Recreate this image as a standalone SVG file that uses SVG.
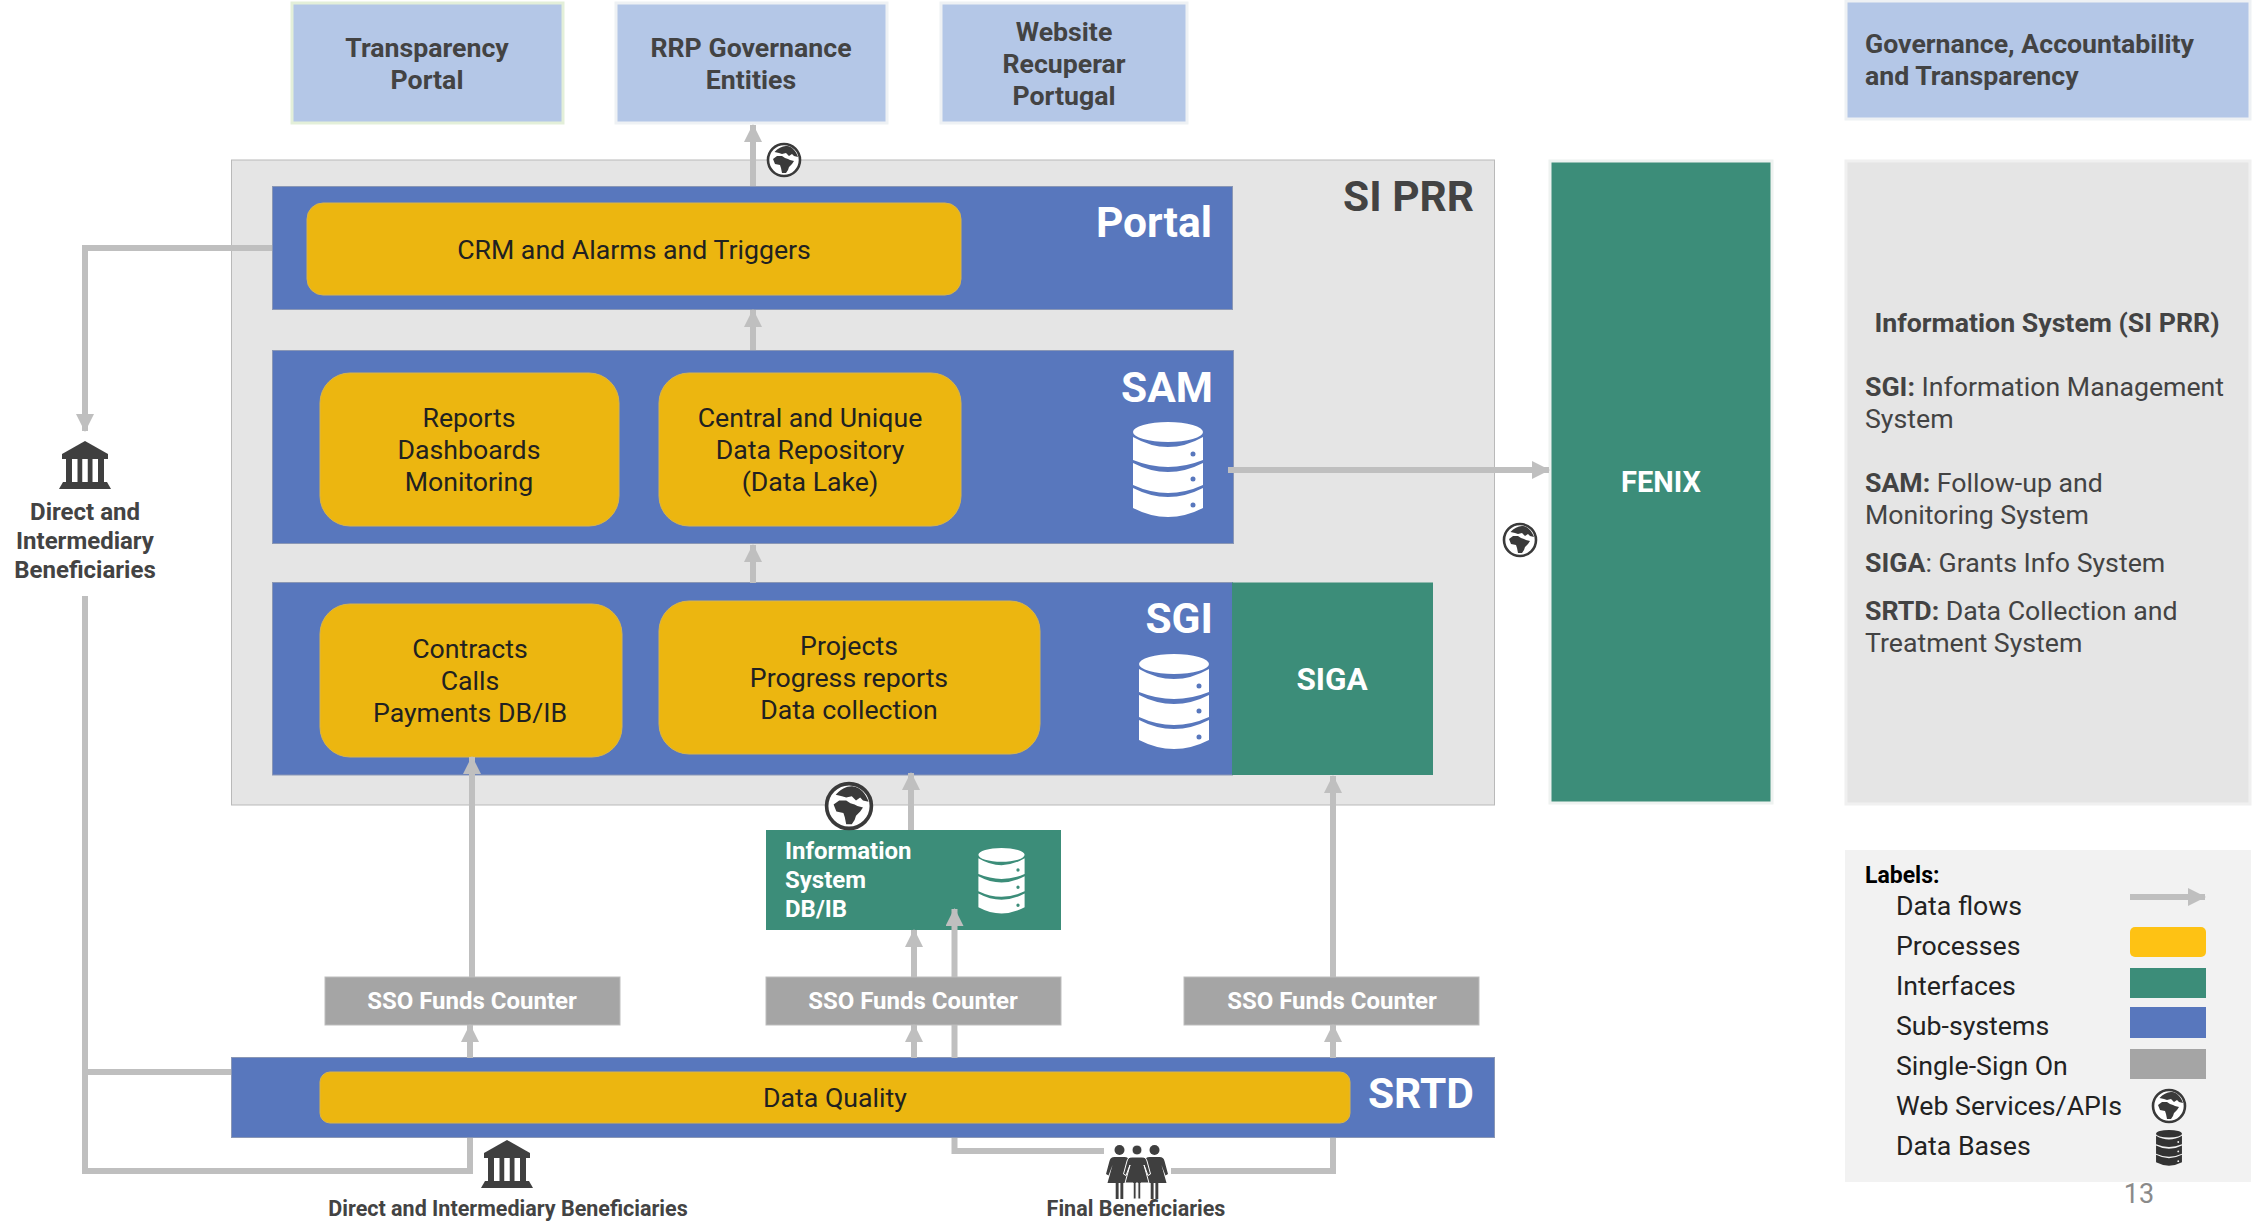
<svg xmlns="http://www.w3.org/2000/svg" width="2262" height="1221" viewBox="0 0 2262 1221">
<style>
text{font-family:Roboto,"Liberation Sans",sans-serif;font-size:26.7px}
.c{text-anchor:middle}
.m{font-weight:700}
.b{font-weight:700}
.d{fill:#434343}
.k{fill:#212121}
.w{fill:#fff}
.t{font-size:42.5px;font-weight:700}
.blue{fill:#5877bd;stroke:#8a97b5;stroke-width:1}
.top{fill:#b4c7e7;stroke:#eef1f4;stroke-width:3}
.proc{fill:#ecb610;stroke:#d9b54a;stroke-width:1}
.green{fill:#3c8d79}
.sso{fill:#a5a5a5;stroke:#bdbdbd;stroke-width:1}
.ln{fill:none;stroke:#bfbfbf;stroke-width:6}
.s24{font-size:24px}
.s235{font-size:24px}
.s215{font-size:21.5px}
.lg{fill:#222}
</style>
<defs>
<marker id="ah" markerUnits="userSpaceOnUse" markerWidth="18" markerHeight="18" refX="17" refY="9" orient="auto"><path d="M0 0L18 9L0 18Z" fill="#bfbfbf"/></marker>
<g id="globe">
<circle r="16" fill="#fff" stroke="#3a3a3a" stroke-width="2.6"/>
<path fill="#3a3a3a" d="M-9.500-8C-6-12-1-14.500 3-14C8-13.500 12-9 14-3L10-4L8-6L5-4L2-7L-2-6L-5-7ZM-11-1L-7-4L-2-4L1-2L4-1L6 0L10 1L8 4L5 7L4 10L2 13L-2 13L-3 8L-4 5L-9 4Z"/>
</g>
<path id="db" fill-rule="evenodd" d="M-35-38A35 10 0 0 1 35-38A35 10 0 0 1-35-38ZM-35-33Q0-13 35-33V-10Q0 4-35-10ZM22.500-16a2.500 2.500 0 1 0 5 0a2.500 2.500 0 1 0-5 0ZM-35-7Q0 11 35-7V15Q0 31-35 15ZM22.500 9a2.500 2.500 0 1 0 5 0a2.500 2.500 0 1 0-5 0ZM-35 18Q0 36 35 18V38Q0 56-35 38ZM22.500 35a2.500 2.500 0 1 0 5 0a2.500 2.500 0 1 0-5 0Z"/>
<g id="bank" fill="#3f3f3f">
<path d="M0-24L23-11V-6H-23V-11Z"/>
<rect x="-19" y="-6" width="6" height="24"/><rect x="-7.500" y="-6" width="4.750" height="24"/><rect x="2.750" y="-6" width="4.750" height="24"/><rect x="13" y="-6" width="6" height="24"/>
<path d="M-22 17H22L26 24H-26Z"/>
</g>
<g id="woman" fill="#3f3f3f">
<circle cx="0" cy="0" r="5"/>
<path d="M-5 7H5C8 7 9 8 10 11L13.500 24L11 25.500L7 15L12 33H3.800V49H.9V33H-.9V49H-3.800V33H-12L-7 15L-11 25.500L-13.500 24L-10 11C-9 8-8 7-5 7Z"/>
</g>
</defs>

<g id="si-prr"><rect x="231.500" y="160" width="1263" height="645" fill="#e5e5e5" stroke="#b9b9b9" stroke-width="1"/><text class="t d" x="1474" y="211" text-anchor="end">SI PRR</text></g>

<g id="transparency-portal"><rect class="top" x="292" y="3" width="271" height="120" style="stroke:#e3efd9"/><text class="c m d" x="427" y="57">Transparency</text><text class="c m d" x="427" y="89">Portal</text></g>
<g id="rrp-governance"><rect class="top" x="616" y="3" width="271" height="120"/><text class="c m d" x="751" y="57">RRP Governance</text><text class="c m d" x="751" y="89">Entities</text></g>
<g id="website-recuperar"><rect class="top" x="941" y="3" width="246" height="120"/><text class="c m d" x="1064" y="41">Website</text><text class="c m d" x="1064" y="73">Recuperar</text><text class="c m d" x="1064" y="105">Portugal</text></g>
<g id="governance-legend"><rect class="top" x="1846" y="1" width="404" height="118"/><text class="m d" x="1865" y="53">Governance, Accountability</text><text class="m d" x="1865" y="85">and Transparency</text></g>

<g id="portal"><rect class="blue" x="272.500" y="186.500" width="960" height="123"/><text class="t w" x="1212" y="237" text-anchor="end">Portal</text></g>
<g id="crm"><rect class="proc" x="307" y="203" width="654" height="92" rx="16"/><text class="c k" x="634" y="259">CRM and Alarms and Triggers</text></g>

<g id="sam"><rect class="blue" x="272.500" y="350.500" width="961" height="193"/><text class="t w" x="1213" y="402" text-anchor="end">SAM</text><use href="#db" x="1168" y="470" fill="#fff"/></g>
<g id="reports"><rect class="proc" x="320" y="373" width="299" height="153" rx="30"/><text class="c k" x="469" y="427">Reports</text><text class="c k" x="469" y="459">Dashboards</text><text class="c k" x="469" y="491">Monitoring</text></g>
<g id="central"><rect class="proc" x="659" y="373" width="302" height="153" rx="30"/><text class="c k" x="810" y="427">Central and Unique</text><text class="c k" x="810" y="459">Data Repository</text><text class="c k" x="810" y="491">(Data Lake)</text></g>

<g id="sgi"><rect class="blue" x="272.500" y="582.500" width="960" height="192.500"/><text class="t w" x="1213" y="633" text-anchor="end">SGI</text><use href="#db" x="1174" y="702" fill="#fff"/></g>
<g id="contracts"><rect class="proc" x="320" y="604" width="302" height="153" rx="30"/><text class="c k" x="470" y="658">Contracts</text><text class="c k" x="470" y="690">Calls</text><text class="c k" x="470" y="722">Payments DB/IB</text></g>
<g id="projects"><rect class="proc" x="659" y="601" width="381" height="153" rx="30"/><text class="c k" x="849" y="655">Projects</text><text class="c k" x="849" y="687">Progress reports</text><text class="c k" x="849" y="719">Data collection</text></g>
<g id="siga"><rect class="green" x="1232" y="582.500" width="201" height="192.500"/><text class="c m w" x="1332" y="690" style="font-size:31.500px">SIGA</text></g>

<g id="fenix"><rect class="green" x="1550" y="161" width="222" height="642" stroke="#eef2f0" stroke-width="3"/><text class="c m w" x="1661" y="492" style="font-size:29px">FENIX</text></g>

<g id="info-panel"><rect x="1846" y="161" width="404" height="643" fill="#e5e5e5" stroke="#f0f0f0" stroke-width="3"/>
<text class="c m d" x="2047" y="332">Information System (SI PRR)</text>
<text class="d" x="1865" y="396"><tspan class="b">SGI:</tspan> Information Management</text><text class="d" x="1865" y="428">System</text>
<text class="d" x="1865" y="492"><tspan class="b">SAM:</tspan> Follow-up and</text><text class="d" x="1865" y="524">Monitoring System</text>
<text class="d" x="1865" y="572"><tspan class="b">SIGA</tspan>: Grants Info System</text>
<text class="d" x="1865" y="620"><tspan class="b">SRTD:</tspan> Data Collection and</text><text class="d" x="1865" y="652">Treatment System</text></g>

<g id="is-dbib"><rect class="green" x="766" y="830" width="295" height="100"/><text class="m w s24" x="785" y="859">Information</text><text class="m w s24" x="785" y="888">System</text><text class="m w s24" x="785" y="917">DB/IB</text><use href="#db" transform="translate(1001.500 881) scale(.66 .69)" fill="#fff"/></g>

<g id="sso-1"><rect class="sso" x="325" y="977" width="295" height="48"/><text class="c m w s24" x="472" y="1009">SSO Funds Counter</text></g>
<g id="sso-2"><rect class="sso" x="766" y="977" width="295" height="48"/><text class="c m w s24" x="913" y="1009">SSO Funds Counter</text></g>
<g id="sso-3"><rect class="sso" x="1184" y="977" width="295" height="48"/><text class="c m w s24" x="1332" y="1009">SSO Funds Counter</text></g>

<g id="srtd"><rect class="blue" x="231.500" y="1057.500" width="1263" height="80"/><text class="t w" x="1474" y="1108" text-anchor="end">SRTD</text></g>
<g id="data-quality"><rect class="proc" x="320" y="1072" width="1030" height="51" rx="10"/><text class="c k" x="835" y="1107">Data Quality</text></g>

<g id="connectors">
<path class="ln" d="M272 248H85V431" marker-end="url(#ah)"/>
<path class="ln" d="M85 596V1171H470V1138"/>
<path class="ln" d="M85 1072H231"/>
<path class="ln" d="M753 186V125" marker-end="url(#ah)"/>
<path class="ln" d="M753 350V310" marker-end="url(#ah)"/>
<path class="ln" d="M753 583V545" marker-end="url(#ah)"/>
<path class="ln" d="M472 977V757" marker-end="url(#ah)"/>
<path class="ln" d="M911 830V773" marker-end="url(#ah)"/>
<path class="ln" d="M1333 977V776" marker-end="url(#ah)"/>
<path class="ln" d="M1228 470H1549" marker-end="url(#ah)"/>
<path class="ln" d="M914 977V930" marker-end="url(#ah)"/>
<path class="ln" d="M954.500 977V909" marker-end="url(#ah)"/>
<path class="ln" d="M470 1058V1025" marker-end="url(#ah)"/>
<path class="ln" d="M914 1058V1025" marker-end="url(#ah)"/>
<path class="ln" d="M954.500 1025V1058"/>
<path class="ln" d="M1333 1058V1025" marker-end="url(#ah)"/>
<path class="ln" d="M954.500 1138V1151H1104"/>
<path class="ln" d="M1333 1138V1171H1171"/>
</g>

<g id="ws-1"><use href="#globe" x="784" y="160"/></g>
<g id="ws-2"><use href="#globe" x="1520" y="540"/></g>
<g id="ws-3"><use href="#globe" transform="translate(849 806) scale(1.4)"/></g>

<g id="direct-left"><use href="#bank" x="85" y="465"/><text class="c m d s235" x="85" y="520">Direct and</text><text class="c m d s235" x="85" y="549">Intermediary</text><text class="c m d s235" x="85" y="578">Beneficiaries</text></g>
<g id="direct-bottom"><use href="#bank" x="507" y="1164"/><text class="c m d s215" x="508" y="1216">Direct and Intermediary Beneficiaries</text></g>
<g id="final-bottom"><use href="#woman" x="1119.500" y="1150"/><use href="#woman" x="1154.500" y="1150"/><use href="#woman" x="1137" y="1150" stroke="#fff" stroke-width="1"/><text class="c m d s215" x="1136" y="1216">Final Beneficiaries</text></g>

<g id="legend"><rect x="1845" y="850" width="406" height="332" fill="#f2f2f2"/>
<text class="m" x="1865" y="883" style="font-size:23px;fill:#000">Labels:</text>
<text class="lg" x="1896" y="915">Data flows</text><text class="lg" x="1896" y="955">Processes</text><text class="lg" x="1896" y="995">Interfaces</text><text class="lg" x="1896" y="1035">Sub-systems</text><text class="lg" x="1896" y="1075">Single-Sign On</text><text class="lg" x="1896" y="1115">Web Services/APIs</text><text class="lg" x="1896" y="1155">Data Bases</text>
<path class="ln" d="M2130 897H2205" marker-end="url(#ah)"/>
<rect x="2130" y="927" width="76" height="30" rx="5" fill="#fec214"/>
<rect x="2130" y="968" width="76" height="30" fill="#3c8d79"/>
<rect x="2130" y="1007" width="76" height="31" fill="#5877bd"/>
<rect x="2130" y="1049" width="76" height="30" fill="#a5a5a5"/>
<use href="#globe" x="2169" y="1106"/>
<use href="#db" transform="translate(2169 1148) scale(.37 .375)" fill="#333"/>
</g>
<text id="page-number" class="c" x="2139" y="1203" fill="#8a8a8a" style="font-size:27px">13</text>
</svg>
